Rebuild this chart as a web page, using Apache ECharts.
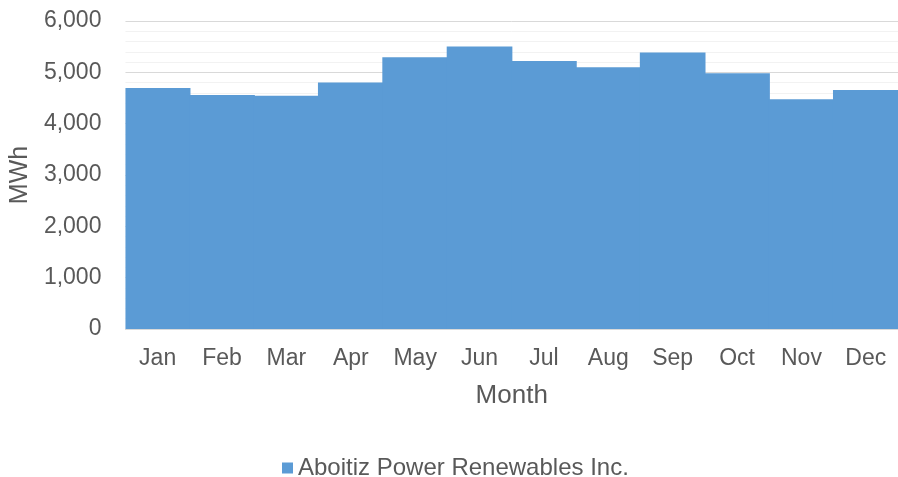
<!DOCTYPE html>
<html>
<head>
<meta charset="utf-8">
<script src="https://cdn.jsdelivr.net/npm/echarts@6/dist/echarts.min.js"></script>
<style>html,body{margin:0;padding:0;background:#fff}#c{width:898px;height:477px}</style>
</head>
<body>
<div id="c"></div>
<script>
const months = ['Jan','Feb','Mar','Apr','May','Jun','Jul','Aug','Sep','Oct','Nov','Dec'];
const values = [4695, 4560, 4545, 4800, 5295, 5505, 5220, 5100, 5385, 4980, 4475, 4655];
const seriesName = 'Aboitiz Power Renewables Inc.';
const yMin = 0, yMax = 6000, yStep = 1000;

const chart = echarts.init(document.getElementById('c'));
const font = 'Liberation Sans, Arial, sans-serif';
chart.setOption({
  animation: false,
  textStyle: { fontFamily: font },
  grid: { left: 123, right: 0, top: 21, bottom: 148 },
  legend: {
    data: [seriesName], top: 451, left: 277, icon: 'rect',
    itemWidth: 11, itemHeight: 11, itemGap: 5,
    textStyle: { fontFamily: font, fontSize: 24, color: '#595959', padding: [0,0,0,0] }
  },
  xAxis: {
    type: 'category', data: months,
    name: 'Month', nameLocation: 'middle', nameGap: 54,
    nameTextStyle: { fontFamily: font, fontSize: 26, color: '#595959' },
    axisLine: { lineStyle: { color: '#d9d9d9' } },
    axisTick: { show: false },
    axisLabel: { fontFamily: font, fontSize: 23, color: '#595959', margin: 18 }
  },
  yAxis: {
    type: 'value', min: yMin, max: yMax, interval: yStep,
    name: 'MWh', nameLocation: 'middle', nameGap: 92,
    nameTextStyle: { fontFamily: font, fontSize: 25, color: '#595959' },
    axisLabel: { fontFamily: font, fontSize: 23, color: '#595959', margin: 24,
      formatter: v => v.toLocaleString('en-US') },
    axisLine: { show: false }, axisTick: { show: false },
    splitLine: { lineStyle: { color: '#d9d9d9', width: 1 } },
    minorTick: { show: false, splitNumber: 5 },
    minorSplitLine: { show: true, lineStyle: { color: '#f2f2f2', width: 1 } }
  },
  series: [{
    name: seriesName, type: 'bar', data: values,
    barCategoryGap: '0%', barWidth: '102%',
    itemStyle: { color: '#5B9BD5' }
  }]
});
</script>
</body>
</html>
